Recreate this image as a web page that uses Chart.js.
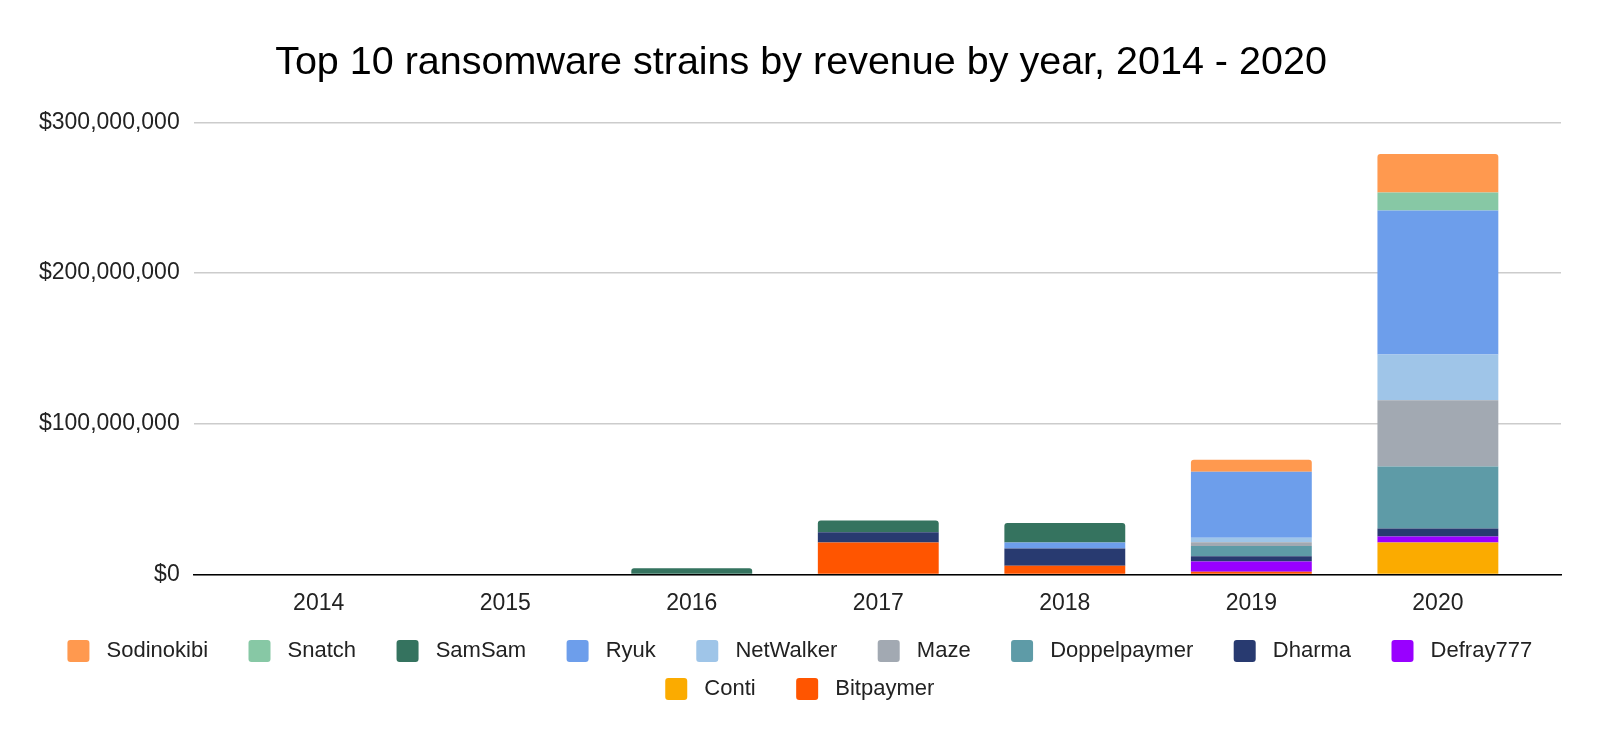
<!DOCTYPE html>
<html>
<head>
<meta charset="utf-8">
<script src="https://cdn.jsdelivr.net/npm/chart.js@4"></script>
<style>
  body { margin: 0; background: #fff; }
  #wrap { width: 1600px; height: 739px; }
</style>
</head>
<body>
<div id="wrap"><canvas id="ransom"></canvas></div>
<script>
/* years and revenue per strain, in millions of USD */
const years = ['2014', '2015', '2016', '2017', '2018', '2019', '2020'];

const bitpaymer    = [0, 0, 0,   21.2, 5.7,  1.7,  0];
const conti        = [0, 0, 0,   0,    0,    0,    21.2];
const defray777    = [0, 0, 0,   0,    0,    6.9,  4.0];
const dharma       = [0, 0, 0,   6.7,  11.5, 3.5,  5.3];
const doppelpaymer = [0, 0, 0,   0,    0,    6.7,  41.1];
const maze         = [0, 0, 0,   0,    0,    2.5,  44.0];
const netwalker    = [0, 0, 0,   0,    0,    3.1,  30.4];
const ryuk         = [0, 0, 0,   0,    4.0,  43.7, 95.6];
const samsam       = [0, 0, 4.1, 7.8,  12.9, 0,    0];
const snatch       = [0, 0, 0,   0,    0,    0,    11.8];
const sodinokibi   = [0, 0, 0,   0,    0,    8.0,  25.6];

const yTicks = [0, 100000000, 200000000, 300000000];

// bottom of the stack first
const series = [
  ['Bitpaymer', bitpaymer, '#ff5500'],
  ['Conti', conti, '#fbab00'],
  ['Defray777', defray777, '#9900ff'],
  ['Dharma', dharma, '#283a70'],
  ['Doppelpaymer', doppelpaymer, '#5e9ba7'],
  ['Maze', maze, '#a2a9b2'],
  ['NetWalker', netwalker, '#9fc5e8'],
  ['Ryuk', ryuk, '#6d9eeb'],
  ['SamSam', samsam, '#35735f'],
  ['Snatch', snatch, '#87c8a5'],
  ['Sodinokibi', sodinokibi, '#ff994f']
];

const fmt = v => '$' + v.toLocaleString('en-US');
const font = size => ({ family: 'Liberation Sans', size: size, weight: 'normal' });

// nudge title and legend a bit to the right, like the sheets chart
const shiftBoxes = {
  id: 'shiftBoxes',
  afterLayout(chart) {
    chart.titleBlock.left += 8;
    chart.titleBlock.right += 8;
    chart.legend.left += 19;
    chart.legend.right += 19;
  }
};

let ctx = document.querySelector('#ransom').getContext('2d');
new Chart(ctx, {
  type: 'bar',
  data: {
    labels: years,
    datasets: series.map(s => ({
      label: s[0],
      data: s[1].map(v => v * 1000000),
      backgroundColor: s[2],
      borderWidth: 0,
      borderRadius: 3,
      categoryPercentage: 1,
      barPercentage: 0.648
    }))
  },
  options: {
    responsive: true,
    maintainAspectRatio: false,
    animation: false,
    layout: { padding: { left: 25, right: 39, top: 0, bottom: 29 } },
    plugins: {
      title: {
        display: true,
        text: 'Top 10 ransomware strains by revenue by year, 2014 - 2020',
        color: '#000',
        font: font(39.5),
        padding: { top: 39, bottom: 36 }
      },
      legend: {
        position: 'bottom',
        reverse: true,
        labels: {
          color: '#222',
          font: font(22),
          boxWidth: 22,
          boxHeight: 22,
          useBorderRadius: true,
          borderRadius: 3,
          padding: 16,
          generateLabels: chart => {
            const items = Chart.defaults.plugins.legend.labels.generateLabels(chart);
            items.forEach(it => { it.text = ' ' + it.text + '    '; });
            return items;
          }
        }
      },
      tooltip: { enabled: false }
    },
    scales: {
      x: {
        type: 'linear',
        stacked: true,
        offset: false,
        min: 2013.33,
        max: 2020.66,
        afterBuildTicks: axis => { axis.ticks = years.map(y => ({ value: Number(y) })); },
        grid: { display: false },
        border: { color: '#000', width: 1.5 },
        ticks: { color: '#222', font: font(23), padding: 7, callback: v => String(v) }
      },
      y: {
        stacked: true,
        min: 0,
        max: 300000000,
        afterBuildTicks: axis => { axis.ticks = yTicks.map(v => ({ value: v })); },
        grid: { color: '#cccccc', drawTicks: false, lineWidth: 1.5 },
        border: { display: false },
        ticks: {
          color: '#222',
          font: font(23),
          padding: 14,
          callback: v => fmt(v)
        }
      }
    }
  },
  plugins: [shiftBoxes]
});
</script>
</body>
</html>
